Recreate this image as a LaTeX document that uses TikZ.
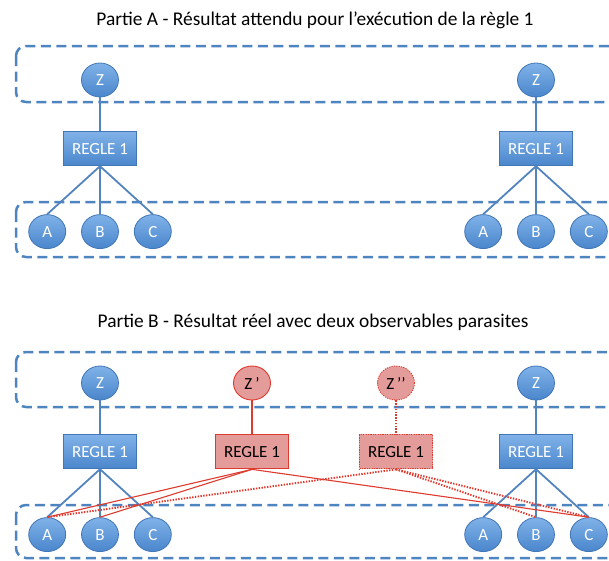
\documentclass[tikz,border=0pt]{standalone}
\usepackage{fontspec}
\setmainfont{Carlito}
\usetikzlibrary{positioning,shapes.geometric}
\definecolor{obstop}{RGB}{128,178,232}
\definecolor{obsbot}{RGB}{74,134,204}
\definecolor{obsedge}{RGB}{66,118,182}
\definecolor{linkblue}{RGB}{82,132,192}
\definecolor{zoneblue}{RGB}{78,132,192}
\definecolor{parafill}{RGB}{228,156,154}
\definecolor{parared}{RGB}{222,58,46}

\begin{document}
\begin{tikzpicture}[
  x=1pt, y=-1pt,
  font=\fontsize{17}{20}\selectfont,
  obs/.style={ellipse, draw=obsedge, line width=0.8pt, top color=obstop, bottom color=obsbot,
    text=white, minimum width=37pt, minimum height=34pt, inner sep=0pt},
  regle/.style={rectangle, draw=obsedge, line width=0.8pt, top color=obstop, bottom color=obsbot,
    text=white, minimum width=73pt, minimum height=34pt, inner sep=0pt},
  para/.style={draw=parared, line width=0.9pt, top color=parafill, bottom color=parafill, text=black},
  title/.style={font=\fontsize{19.4}{23}\selectfont},
  zone/.style={draw=zoneblue, line width=2.5pt, dash pattern=on 10pt off 5.5pt, rounded corners=10pt},
  link/.style={draw=linkblue, line width=1.8pt},
  redlink/.style={draw=parared, line width=1.1pt},
  reddots/.style={draw=parared, line width=1.9pt, dash pattern=on 1.4pt off 1.4pt}
]
\useasboundingbox (0,0) rectangle (609,560);
\clip (0,0) rectangle (609,560);

% titres
\node[title] (titleA) at (315,20) {Partie A - Résultat attendu pour l’exécution de la règle 1};
\node[title] (titleB) at (313,322) {Partie B - Résultat réel avec deux observables parasites};

% zones
\draw[zone] (16,46) rectangle (640,102);
\draw[zone] (16,202) rectangle (640,257);
\draw[zone] (16,352) rectangle (640,407);
\draw[zone] (16,505) rectangle (640,558);

% arbres attendus
\foreach \t/\x/\y in {1/100/80, 2/536/80, 3/100/383, 4/536/383} {
  \node[obs] (z\t) at (\x,\y) {Z};
  \node[regle, below=34pt of z\t] (r\t) {REGLE 1};
  \node[obs, below=48pt of r\t] (b\t) {B};
  \node[obs, left=15pt of b\t] (a\t) {A};
  \node[obs, right=15pt of b\t] (c\t) {C};
  \draw[link] (z\t) -- (r\t);
  \foreach \o in {a,b,c} \draw[link] (r\t.south) -- (\o\t.north);
}

% observables parasites
\node[obs, para] (zp) at (252,383) {Z\,’};
\node[regle, para, below=34pt of zp] (rp) {REGLE 1};
\node[obs, para, dash pattern=on 1.2pt off 1.2pt] (zpp) at (396,383) {Z\,’’};
\node[regle, para, dash pattern=on 1.2pt off 1.2pt, below=34pt of zpp] (rpp) {REGLE 1};

\draw[redlink] (zp) -- (rp);
\draw[redlink] (rp.south) -- (a3.north);
\draw[redlink] (rp.south) -- (b3.north);
\draw[redlink] (rp.south) -- (c4.north);

\draw[reddots] (zpp) -- (rpp);
\draw[reddots] (rpp.south) -- (a3.north);
\draw[reddots] (rpp.south) -- (b4.north);
\draw[reddots] (rpp.south) -- (c4.north);

\end{tikzpicture}
\end{document}
